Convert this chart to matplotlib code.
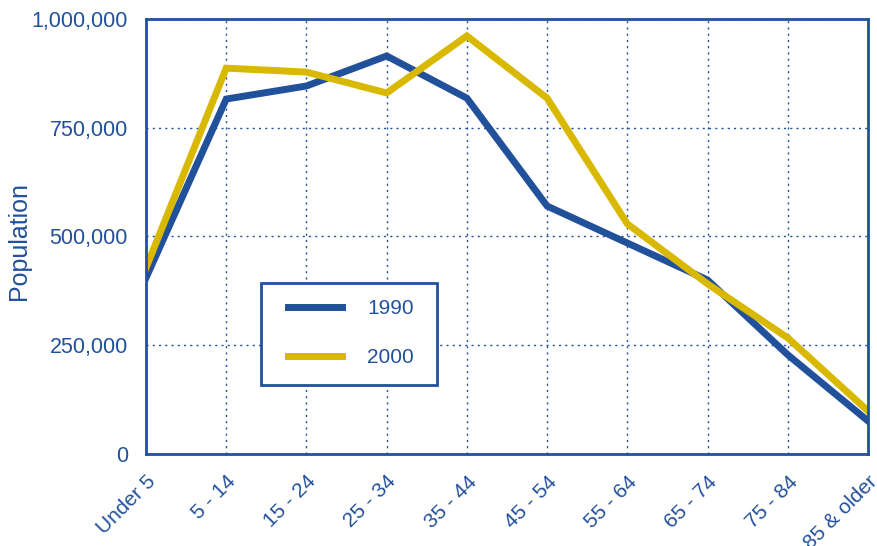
import matplotlib.pyplot as plt
from matplotlib.ticker import FuncFormatter
from matplotlib.patches import Rectangle

plt.rcParams['font.family'] = ['Liberation Sans', 'DejaVu Sans']

age_groups = ["Under 5", "5 - 14", "15 - 24", "25 - 34", "35 - 44",
              "45 - 54", "55 - 64", "65 - 74", "75 - 84", "85 & older"]
pop_1990 = [405000, 816000, 846000, 915000, 818000,
            570000, 485000, 400000, 228000, 76000]
pop_2000 = [428000, 887000, 878000, 830000, 961000,
            818000, 529000, 391000, 267000, 99000]

blue = '#22519b'
gold = '#d9b800'

fig = plt.figure(figsize=(8.78, 5.46), dpi=100)
ax = fig.add_axes([0.1663, 0.1685, 0.8223, 0.7967])

x = list(range(len(age_groups)))
ax.plot(x, pop_1990, color=blue, lw=5, label='1990', solid_joinstyle='miter')
ax.plot(x, pop_2000, color=gold, lw=5, label='2000', solid_joinstyle='miter')

ax.set_xlim(0, len(age_groups) - 1)
ax.set_ylim(0, 1000000)
ax.set_yticks([0, 250000, 500000, 750000, 1000000])
ax.yaxis.set_major_formatter(FuncFormatter(lambda v, p: f"{int(v):,}"))
ax.set_xticks(x)
ax.set_xticklabels(age_groups, rotation=45, ha='right', va='top',
                   rotation_mode='anchor')

ax.grid(True, color=blue, linestyle=(0, (1.5, 3)), linewidth=1)
ax.set_axisbelow(True)
for s in ax.spines.values():
    s.set_color(blue)
    s.set_linewidth(2)

ax.tick_params(axis='both', length=0, colors=blue)
ax.tick_params(axis='y', pad=13, labelsize=15.5)
ax.tick_params(axis='x', pad=13, labelsize=15)
ax.set_ylabel("Population", color=blue, fontsize=18)
ax.yaxis.set_label_coords(-0.159, 0.49)

# legend box drawn separately so the padding matches
ax.add_patch(Rectangle((0.159, 0.159), 0.244, 0.234, transform=ax.transAxes,
                       facecolor='white', edgecolor=blue, lw=2, zorder=5))
leg = ax.legend(loc='center left', bbox_to_anchor=(0.196, 0.278),
                fontsize=15, frameon=False,
                handlelength=2.6, handletextpad=1.23, labelspacing=1.45,
                borderpad=0, borderaxespad=0)
leg.set_zorder(6)
for t in leg.get_texts():
    t.set_color(blue)

fig.savefig('out.png', dpi=100)
